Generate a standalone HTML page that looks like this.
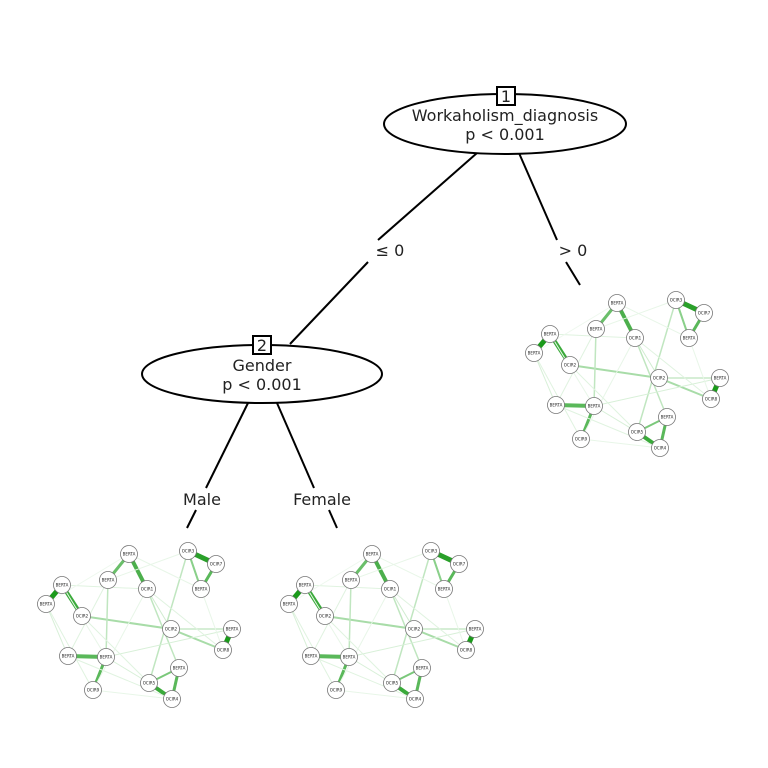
<!DOCTYPE html>
<html><head><meta charset="utf-8"><style>
body{margin:0;background:#fff;width:768px;height:768px;overflow:hidden}
svg{display:block}
text{font-family:"DejaVu Sans","Liberation Sans",sans-serif;fill:#222}
</style></head><body>
<svg id="s" width="768" height="768" viewBox="0 0 768 768">
<g stroke="#000" stroke-width="2" fill="none">
<line x1="477" y1="153" x2="378" y2="240"/>
<line x1="368" y1="262" x2="290" y2="344"/>
<line x1="519" y1="153" x2="557" y2="240"/>
<line x1="566" y1="262" x2="580" y2="285"/>
<line x1="248" y1="403" x2="206" y2="488"/>
<line x1="196" y1="510" x2="187" y2="528"/>
<line x1="277" y1="403" x2="314" y2="488"/>
<line x1="329" y1="510" x2="337" y2="528"/>
<ellipse cx="505" cy="124" rx="121" ry="30" fill="#fff"/>
<ellipse cx="262" cy="374" rx="120" ry="29" fill="#fff"/>
<rect x="497" y="87" width="18" height="18" fill="#fff"/>
<rect x="253" y="336" width="18" height="18" fill="#fff"/>
</g>
<g font-size="16" text-anchor="middle">
<text x="506" y="102">1</text>
<text x="262" y="351">2</text>
<text x="505" y="121">Workaholism_diagnosis</text>
<text x="505" y="140">p &lt; 0.001</text>
<text x="262" y="371">Gender</text>
<text x="262" y="390">p &lt; 0.001</text>
<text x="390" y="256">≤ 0</text>
<text x="573" y="256">&gt; 0</text>
<text x="202" y="505">Male</text>
<text x="322" y="505">Female</text>
</g>
<g id="net"></g>
</svg>
<script>
var N=[[617,303],[596,329],[635,338],[550,334],[534,353],[570,365],[676,300],[704,313],[689,338],[659,378],[720,378],[711,399],[556,405],[594,406],[581,439],[667,417],[637,432],[660,448]];
var L=["BERTA","BERTA","OCIR1","BERTA","BERTA","OCIR2","OCIR3","OCIR7","BERTA","OCIR2","BERTA","OCIR8","BERTA","BERTA","OCIR9","BERTA","OCIR5","OCIR4"];
var E=[[3,4,5,"#1a9a1a"],[3,5,4,"#3aaa3a"],[0,2,4,"#4caf4c"],[0,1,3,"#6abf6a"],[6,7,5,"#2aa02a"],[7,8,3,"#5ab85a"],[6,8,2,"#8ad08a"],[10,11,5,"#1a9a1a"],[12,13,4,"#5ab85a"],[13,14,3,"#5ab85a"],[16,17,4,"#3aaa3a"],[15,17,3,"#5ab85a"],[15,16,2,"#7ac87a"],[5,9,2,"#a8dca8"],[9,11,2,"#a8dca8"],[1,13,1.5,"#c0e6c0"],[2,15,1.5,"#c0e6c0"],[6,16,1.5,"#c0e6c0"],[4,12,1,"#d8f0d8"],[2,9,1,"#d0ecd0"],[3,2,1,"#e0f3e0"],[13,10,1,"#d8f0d8"],[12,17,1,"#e0f3e0"],[14,17,1,"#e8f6e8"],[9,10,1.5,"#c8e9c8"],[0,8,1,"#e8f6e8"],[1,6,1,"#e8f6e8"],[4,14,1,"#e0f3e0"],[5,16,1,"#e0f3e0"],[2,11,1,"#e0f3e0"],[8,11,1,"#e8f6e8"],[3,13,1,"#e8f6e8"],[1,12,1,"#e0f3e0"],[2,14,1,"#e8f6e8"],[0,4,1,"#eef8ee"],[13,16,1,"#d8f0d8"]];
var g=document.getElementById("net"),ns="http://www.w3.org/2000/svg";
[[0,0],[-488,251],[-245,251]].forEach(function(o){
 var gg=document.createElementNS(ns,"g");gg.setAttribute("transform","translate("+o[0]+","+o[1]+")");
 var h="";
 E.forEach(function(e){var a=N[e[0]],b=N[e[1]];h+='<line x1="'+a[0]+'" y1="'+a[1]+'" x2="'+b[0]+'" y2="'+b[1]+'" stroke="'+e[3]+'" stroke-width="'+e[2]+'"/>';});
 N.forEach(function(n,i){h+='<circle cx="'+n[0]+'" cy="'+n[1]+'" r="8.5" fill="#fff" stroke="#777" stroke-width="0.8"/><text x="'+n[0]+'" y="'+(n[1]+1.5)+'" font-size="4" text-anchor="middle">'+L[i]+'</text>';});
 gg.innerHTML=h;g.appendChild(gg);
});
</script>
</body></html>
